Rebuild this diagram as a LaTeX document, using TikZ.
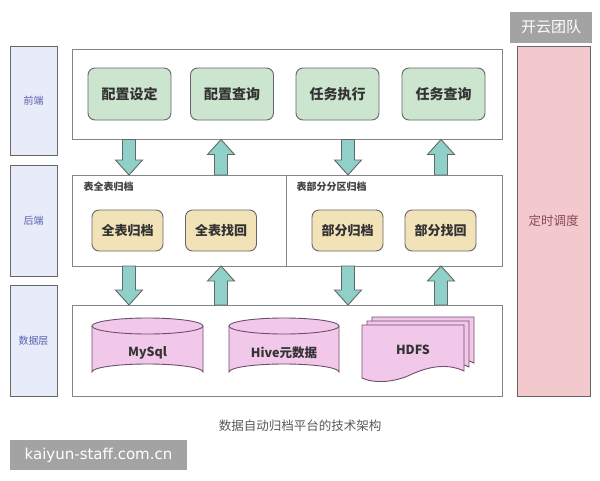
\documentclass[tikz,border=0pt]{standalone}
\usepackage{fontspec}
\setmainfont{Noto Sans CJK SC}
\newfontfamily\wmfont{DejaVu Sans}
\usetikzlibrary{calc}
\definecolor{lay}{HTML}{E8ECF9}
\definecolor{laytext}{HTML}{5A5FB0}
\definecolor{grn}{HTML}{CCE5CF}
\definecolor{tan}{HTML}{F1E2B8}
\definecolor{pnk}{HTML}{F2C8EA}
\definecolor{pnkline}{HTML}{6E4E6E}
\definecolor{sched}{HTML}{F4C9CD}
\definecolor{schedtext}{HTML}{8A4A55}
\definecolor{teal}{HTML}{8FD0C8}
\definecolor{edge}{HTML}{666666}
\definecolor{badge}{HTML}{A3A3A3}
\tikzset{
  layerbox/.style={draw=edge, line width=0.9pt, fill=lay, minimum width=47, minimum height=110, text=laytext, font=\fontsize{10}{12}\selectfont},
  panel/.style={draw=edge!80, line width=1pt, fill=white, minimum width=430, minimum height=90},
  gbtn/.style={draw=edge, line width=0.9pt, fill=grn, rounded corners=7, minimum width=83, minimum height=52, font=\bfseries\fontsize{14}{16}\selectfont, text=black!80},
  tbtn/.style={draw=edge, line width=0.9pt, fill=tan, rounded corners=7, minimum width=71, minimum height=41, font=\bfseries\fontsize{13}{15}\selectfont, text=black!80},
  blockarr/.style={draw=edge, line width=0.9pt, fill=teal},
  cyl/.style={draw=pnkline, line width=0.9pt, fill=pnk},
  dbtext/.style={font=\bfseries\fontsize{12.5}{14}\selectfont, text=black!80},
  sublabel/.style={anchor=west, font=\fontsize{10}{12}\selectfont\bfseries, text=black!75},
}
\newcommand\dnarr[3]{%
  \draw[blockarr] (#1-6.5,#2) -- (#1+6.5,#2) -- (#1+6.5,#3-15) -- (#1+13.5,#3-15) -- (#1,#3) -- (#1-13.5,#3-15) -- (#1-6.5,#3-15) -- cycle;}
\newcommand\uparr[3]{%
  \draw[blockarr] (#1-6.5,#3) -- (#1+6.5,#3) -- (#1+6.5,#2+15) -- (#1+13.5,#2+15) -- (#1,#2) -- (#1-13.5,#2+15) -- (#1-6.5,#2+15) -- cycle;}
\newcommand\cylinder[5]{% name, x1, x2, ytop, ybot
  \fill[pnk] (#2,#4+8) -- (#2,#5-8) arc[start angle=180,end angle=360,x radius={(#3-#2)/2},y radius=8] -- (#3,#4+8) -- cycle;
  \draw[pnkline, line width=0.9pt] (#2,#4+8) -- (#2,#5-8) arc[start angle=180,end angle=360,x radius={(#3-#2)/2},y radius=8] -- (#3,#4+8);
  \draw[cyl] ({(#2+#3)/2},#4+8) ellipse[x radius={(#3-#2)/2}, y radius=8];
  \coordinate (#1) at ({(#2+#3)/2},{(#4+#5)/2+4});}
\newcommand\docpage[2]{% x offset, y offset
  \draw[cyl] (362+#1,325+#2) -- (464+#1,325+#2) -- (464+#1,371+#2)
     .. controls (445+#1,362+#2) and (425+#1,368+#2) .. (410+#1,375+#2)
     .. controls (395+#1,382+#2) and (375+#1,384+#2) .. (362+#1,378+#2) -- cycle;}
\begin{document}
\begin{tikzpicture}[x=1pt,y=-1pt]
\useasboundingbox (0,0) rectangle (600,480);
\fill[white] (0,0) rectangle (600,480);

% badge
\node[fill=badge, text=white, minimum width=82, minimum height=31, inner sep=0, font=\fontsize{15}{17}\selectfont] (badge) at (551,27) {开云团队};

% layer column
\node[layerbox, minimum height=109] (fe) at (33.5,100.5) {前端};
\node[layerbox, minimum height=111] (be) at (33.5,220.5) {后端};
\node[layerbox, minimum height=111] (dl) at (33.5,340.5) {数据层};

% scheduler
\node[draw=edge, line width=0.9pt, fill=sched, minimum width=73, minimum height=350, text=schedtext, font=\fontsize{12.5}{14}\selectfont] (sch) at (553.5,221) {定时调度};

% panels
\node[panel] (top) at (287,94) {};
\node[panel, minimum height=91] (mid) at (287,220.5) {};
\node[panel, minimum height=91] (bot) at (287,350.5) {};
\draw[draw=edge!80, line width=1pt] (mid.north -| 286,0) -- (mid.south -| 286,0);

% green buttons
\node[gbtn] (g1) at (129.5,94) {配置设定};
\node[gbtn] (g2) at (232,94) {配置查询};
\node[gbtn] (g3) at (337.5,94) {任务执行};
\node[gbtn] (g4) at (443.5,94) {任务查询};

% sub labels
\node[sublabel] (l1) at (80,187) {表全表归档};
\node[sublabel] (l2) at (293,187) {表部分分区归档};

% tan buttons
\node[tbtn] (t1) at (127.5,230.5) {全表归档};
\node[tbtn] (t2) at (221,230.5) {全表找回};
\node[tbtn] (t3) at (347.5,230.5) {部分归档};
\node[tbtn] (t4) at (440.5,230.5) {部分找回};

% arrows top-mid
\dnarr{129}{139.5}{175}
\uparr{221}{139.5}{175}
\dnarr{348}{139.5}{175}
\uparr{441}{139.5}{175}
% arrows mid-bot
\dnarr{129}{266}{305}
\uparr{221}{266}{305}
\dnarr{348}{266}{305}
\uparr{441}{266}{305}

% data stores
\cylinder{mysql}{92}{203}{318}{380}
\node[dbtext] (mysqlt) at (mysql) {MySql};
\cylinder{hive}{229}{339}{318}{380}
\node[dbtext] (hivet) at (hive) {Hive元数据};
\docpage{10}{-8}
\docpage{5}{-4}
\docpage{0}{0}
\node[dbtext] (hdfs) at (413,350) {HDFS};

% caption
\node[text=black!65, font=\fontsize{12.5}{14}\selectfont] (cap) at (300,426) {数据自动归档平台的技术架构};

% watermark
\node[fill=badge, text=white, minimum width=177, minimum height=30, inner sep=0, font=\wmfont\fontsize{15}{17}\selectfont] (wm) at (98.5,455) {kaiyun-staff.com.cn};
\end{tikzpicture}
\end{document}
